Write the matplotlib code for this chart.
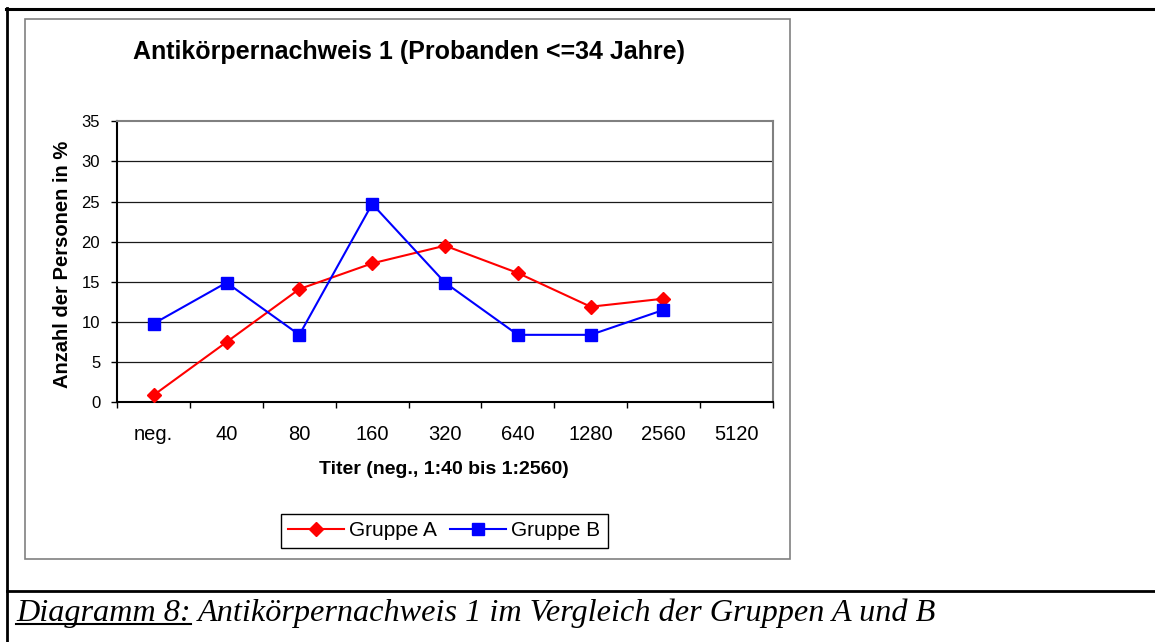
import numpy as np
import matplotlib
matplotlib.use("Agg")
import matplotlib.pyplot as plt
from matplotlib.lines import Line2D
from matplotlib.patches import Rectangle

# Daten
kategorien = ["neg.", "40", "80", "160", "320", "640", "1280", "2560", "5120"]
gruppe_a = [0.9, 7.5, 14.1, 17.3, 19.5, 16.1, 11.9, 12.9]
gruppe_b = [9.8, 14.9, 8.4, 24.7, 14.9, 8.4, 8.4, 11.5]
y_ticks = [0, 5, 10, 15, 20, 25, 30, 35]

titel = "Antikörpernachweis 1 (Probanden <=34 Jahre)"
x_titel = "Titer (neg., 1:40 bis 1:2560)"
y_titel = "Anzahl der Personen in %"
unterschrift_a = "Diagramm 8:"
unterschrift_b = "Antikörpernachweis 1 im Vergleich der Gruppen A und B"

plt.rcParams['font.family'] = ['Liberation Sans', 'DejaVu Sans']

W, H = 1155, 642
fig = plt.figure(figsize=(W / 100, H / 100), dpi=100)


def fx(px):
    return px / W


def fy(py):
    return 1 - py / H


ax = fig.add_axes([fx(117.3), fy(402.3), fx(772.7) - fx(117.3), (402.3 - 121.2) / H])
x = np.arange(len(kategorien))

for t in y_ticks[1:-1]:
    ax.axhline(t, color='#1a1a1a', lw=0.9, zorder=1)

ax.plot(x[:len(gruppe_a)], gruppe_a, color='#ff0000', lw=1.5, marker='D', ms=6.8,
        label='Gruppe A', zorder=3)
ax.plot(x[:len(gruppe_b)], gruppe_b, color='#0000ff', lw=1.5, marker='s', ms=8.2,
        label='Gruppe B', zorder=3)

ax.set_xlim(-0.5, len(kategorien) - 0.5)
ax.set_ylim(y_ticks[0], y_ticks[-1])
ax.set_yticks(y_ticks)

ax.set_xticks(np.arange(-0.5, len(kategorien), 1))
ax.set_xticklabels([])
ax.set_xticks(x, minor=True)
ax.set_xticklabels(kategorien, minor=True)
ax.tick_params(axis='x', which='major', length=4.3, width=1, color='black', direction='out')
ax.tick_params(axis='x', which='minor', length=0, labelsize=14.5, pad=16)
ax.tick_params(axis='y', length=4.3, width=1, color='black', direction='out', labelsize=12, pad=8)

for s in ['left', 'bottom']:
    ax.spines[s].set_color('black')
    ax.spines[s].set_linewidth(1.5)
for s in ['top', 'right']:
    ax.spines[s].set_color('#808080')
    ax.spines[s].set_linewidth(1.5)

fig.text(fx(409), fy(52), titel, ha='center', va='center', fontsize=18, fontweight='bold')
fig.text(fx(62), fy(264), y_titel, ha='center', va='center', rotation=90, fontsize=14.5,
         fontweight='bold')
fig.text(fx(444), fy(469), x_titel, ha='center', va='center', fontsize=14, fontweight='bold')

fig.legend(loc='center', bbox_to_anchor=(fx(444), fy(531)), ncol=2, fontsize=15,
           frameon=True, fancybox=False, edgecolor='black', framealpha=1,
           handlelength=2.7, handletextpad=0.25, columnspacing=0.6, borderpad=0.35)

# grauer Diagrammrahmen
fig.add_artist(Rectangle((fx(25), fy(559)), fx(790) - fx(25), (559 - 19) / H,
                         transform=fig.transFigure, fill=False, ec='#808080', lw=1.2))

# Tabellenlinien
fig.add_artist(Line2D([fx(6), 1], [fy(9), fy(9)], transform=fig.transFigure, color='black', lw=2.2))
fig.add_artist(Line2D([fx(7), fx(7)], [fy(8), 0], transform=fig.transFigure, color='black', lw=2))
fig.add_artist(Line2D([fx(7), 1], [fy(590.5), fy(590.5)], transform=fig.transFigure,
                      color='black', lw=2))

# Bildunterschrift
serif = ['Liberation Serif', 'DejaVu Serif']
t1 = fig.text(fx(16), fy(621), unterschrift_a, family=serif, style='italic', fontsize=23.2,
              va='baseline')
renderer = fig.canvas.get_renderer()
bb = t1.get_window_extent(renderer)
fig.add_artist(Line2D([bb.x0 / W, bb.x1 / W], [fy(624), fy(624)], transform=fig.transFigure,
                      color='black', lw=1.5))
fig.text((bb.x1 + 7) / W, fy(621), unterschrift_b, family=serif, style='italic', fontsize=23.2,
         va='baseline')

fig.savefig('out.png', dpi=100)
